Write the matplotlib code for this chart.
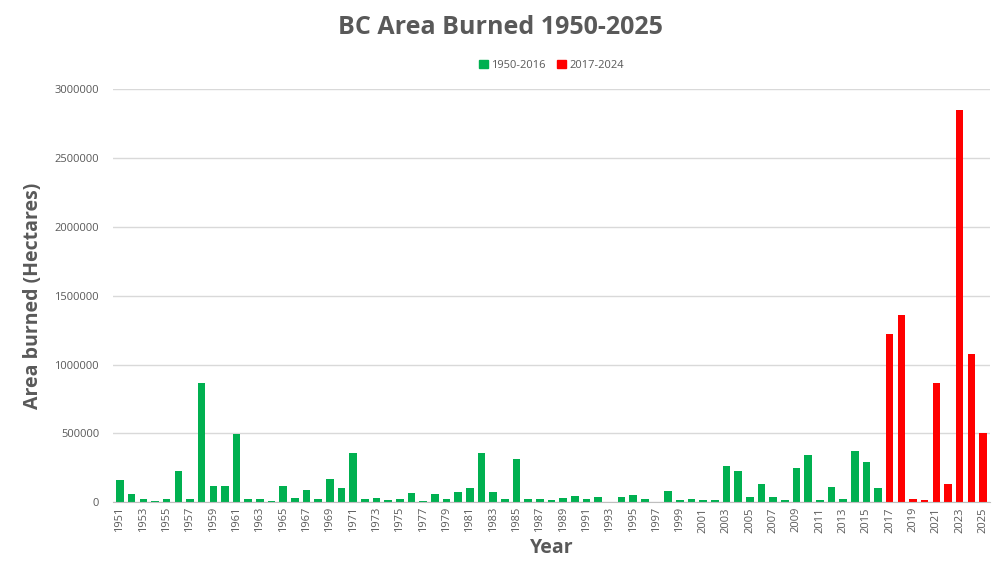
import matplotlib.pyplot as plt
from matplotlib.patches import Patch
from matplotlib.ticker import FuncFormatter

YEARS = list(range(1951, 2026))
AREA = [
    160000, 60000, 20000, 8000, 25000, 230000, 20000, 870000, 115000, 120000,
    495000, 25000, 25000, 8000, 120000, 30000, 90000, 20000, 170000, 105000,
    360000, 25000, 30000, 15000, 25000, 65000, 8000, 60000, 25000, 75000,
    105000, 355000, 75000, 25000, 315000, 20000, 25000, 15000, 30000, 45000,
    25000, 35000, 5000, 35000, 50000, 25000, 5000, 80000, 15000, 20000,
    15000, 15000, 265000, 225000, 40000, 135000, 35000, 15000, 250000, 340000,
    15000, 110000, 20000, 370000, 290000, 100000, 1220000, 1360000, 20000, 15000,
    870000, 135000, 2850000, 1080000, 500000,
]
SPLIT_YEAR = 2017
GREEN = "#00b050"
RED = "#ff0000"

plt.rcParams["font.family"] = ["Open Sans", "DejaVu Sans"]
fig = plt.figure(figsize=(10, 5.84), dpi=100)
ax = fig.add_axes([0.113, 0.14, 0.877, 0.707])

colors = [GREEN if y < SPLIT_YEAR else RED for y in YEARS]
ax.bar(YEARS, AREA, width=0.65, color=colors, zorder=2)

ax.set_xlim(YEARS[0] - 0.6, YEARS[-1] + 0.6)
ax.set_ylim(0, 3000000)
ax.set_yticks(range(0, 3000001, 500000))
ax.yaxis.set_major_formatter(FuncFormatter(lambda v, p: f"{int(v)}"))
ax.set_xticks(YEARS[::2])
ax.set_xticklabels([str(y) for y in YEARS[::2]], rotation=90, fontsize=8, color="#595959")
ax.tick_params(axis="y", labelsize=8, labelcolor="#595959", length=0, pad=10)
ax.tick_params(axis="x", length=0)
ax.grid(axis="y", color="#d9d9d9", linewidth=1, zorder=0)
for s in ["top", "right", "left"]:
    ax.spines[s].set_visible(False)
ax.spines["bottom"].set_color("#bfbfbf")

ax.set_xlabel("Year", fontsize=14, fontweight="bold", color="#595959")
ax.set_ylabel("Area burned (Hectares)", fontsize=14, fontweight="bold", color="#595959", labelpad=8)
fig.suptitle("BC Area Burned 1950-2025", y=0.975, fontsize=18, fontweight="bold", color="#595959")
handles = [Patch(color=GREEN, label="1950-2016"), Patch(color=RED, label="2017-2024")]
ax.legend(handles=handles, loc="lower center", bbox_to_anchor=(0.5, 1.02), ncol=2, frameon=False,
          fontsize=8, handlelength=0.8, handleheight=0.8, columnspacing=1.0,
          handletextpad=0.3, labelcolor="#595959")

fig.savefig("out.png", dpi=100)
